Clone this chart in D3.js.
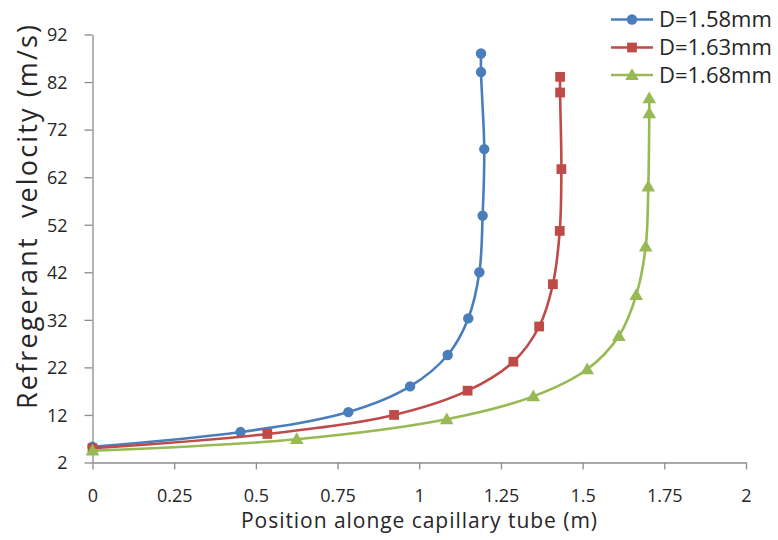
<!DOCTYPE html>
<html><head><meta charset="utf-8">
<script src="https://cdn.jsdelivr.net/npm/d3@7"></script>
<style>body{margin:0;background:#fff}svg{display:block}text{font-family:"Open Sans",sans-serif;fill:#262626}</style>
</head><body><svg id="c" width="778" height="540"></svg>
<script>
const seriesNames = ["D=1.58mm", "D=1.63mm", "D=1.68mm"];
const blueX = [0, 0.453, 0.783, 0.972, 1.087, 1.150, 1.184, 1.194, 1.199, 1.189, 1.189];
const blueY = [5.3, 8.4, 12.6, 18.0, 24.6, 32.3, 42.0, 53.9, 67.9, 84.1, 88.0];
const redX = [0, 0.535, 0.923, 1.148, 1.288, 1.367, 1.409, 1.430, 1.435, 1.431, 1.431];
const redY = [5.0, 8.0, 12.0, 17.1, 23.2, 30.6, 39.5, 50.7, 63.7, 79.8, 83.1];
const greenX = [0, 0.625, 1.084, 1.349, 1.514, 1.611, 1.664, 1.693, 1.701, 1.704, 1.704];
const greenY = [4.5, 6.9, 11.1, 15.9, 21.6, 28.6, 37.2, 47.4, 60.0, 75.4, 78.6];
const xTicks = [0, 0.25, 0.5, 0.75, 1, 1.25, 1.5, 1.75, 2];
const yTicks = [2, 12, 22, 32, 42, 52, 62, 72, 82, 92];
const colors = ["#4A7EBB", "#BE4B48", "#98B954"];
const shapes = [d3.symbolCircle, d3.symbolSquare, d3.symbolTriangle];
const sizes = [85, 95, 80];

const svg = d3.select("#c");
const x = d3.scaleLinear().domain([0, 2]).range([92.5, 746]);
const y = d3.scaleLinear().domain([2, 92]).range([462.5, 34.5]);

const axisColor = "#8c8c8c";
const gx = svg.append("g").attr("transform", "translate(0,462.5)")
  .call(d3.axisBottom(x).tickValues(xTicks).tickSize(7).tickSizeOuter(0).tickFormat(d => String(d)));
const gy = svg.append("g").attr("transform", "translate(92.5,0)")
  .call(d3.axisLeft(y).tickValues(yTicks).tickSize(8).tickSizeOuter(0).tickFormat(d => String(d)));
[gx, gy].forEach(g => {
  g.select(".domain").attr("stroke", axisColor).attr("stroke-width", 1.3);
  g.selectAll(".tick line").attr("stroke", axisColor).attr("stroke-width", 1.3);
  g.selectAll(".tick text").attr("fill", "#262626").style("font-size", "18px").style("font-family", "'Open Sans',sans-serif");
});
gx.selectAll(".tick text").attr("dy", null).attr("y", 39);
gy.selectAll(".tick text").attr("x", -25).attr("dy", "0.35em");

svg.append("text").attr("x", 419).attr("y", 528).attr("text-anchor", "middle")
  .attr("textLength", 356).attr("lengthAdjust", "spacing")
  .style("font-size", "21px").text("Position alonge capillary tube (m)");
svg.append("text").attr("transform", "translate(37,217) rotate(-90)").attr("text-anchor", "middle")
  .attr("textLength", 384).attr("lengthAdjust", "spacing")
  .style("font-size", "27px").style("white-space", "pre").text("Refregerant  velocity (m/s)");

const series = [
  {xs: blueX, ys: blueY}, {xs: redX, ys: redY}, {xs: greenX, ys: greenY}
];
const line = d3.line().x(d => x(d[0])).y(d => y(d[1])).curve(d3.curveCatmullRom.alpha(0.5));
series.forEach((s, i) => {
  const pts = s.xs.map((v, j) => [v, s.ys[j]]);
  svg.append("path").attr("d", line(pts)).attr("fill", "none")
    .attr("stroke", colors[i]).attr("stroke-width", 2.6);
  svg.append("g").selectAll("path").data(pts).join("path")
    .attr("transform", d => `translate(${x(d[0])},${y(d[1]) + (i === 2 ? 1 : 0)})`)
    .attr("d", d3.symbol().type(shapes[i]).size(sizes[i])).attr("fill", colors[i]);
});

const legY = [19.5, 47.5, 75];
seriesNames.forEach((n, i) => {
  const g = svg.append("g").attr("transform", `translate(0,${legY[i]})`);
  g.append("line").attr("x1", 611).attr("x2", 653).attr("stroke", colors[i]).attr("stroke-width", 2.6);
  g.append("path").attr("transform", `translate(632,${i === 2 ? 1 : 0})`)
    .attr("d", d3.symbol().type(shapes[i]).size(sizes[i])).attr("fill", colors[i]);
  g.append("text").attr("x", 659).attr("dy", "0.36em").style("font-size", "22px").text(n);
});
</script></body></html>
